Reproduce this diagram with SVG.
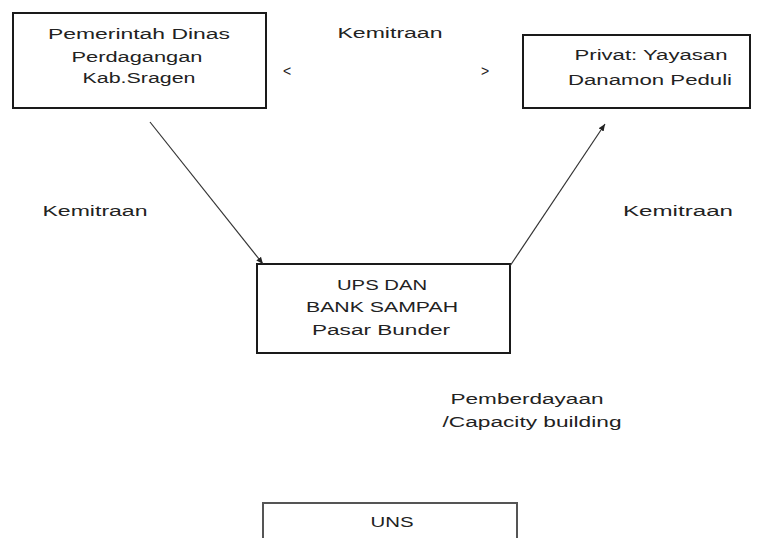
<svg xmlns="http://www.w3.org/2000/svg" width="768" height="538" viewBox="0 0 768 538">
<style>
.box{fill:#fff;stroke:#1a1a1a;stroke-width:2}
.t{font-family:"Liberation Sans",Arial,sans-serif;font-size:14px;fill:#222;text-anchor:middle}
.c{stroke:#333;stroke-width:1.2;fill:none}
</style>
<defs>
<marker id="ah" markerWidth="8" markerHeight="8" refX="7" refY="4" orient="auto" markerUnits="userSpaceOnUse">
<path d="M0,1 L7,4 L0,7 Z" fill="#222"/>
</marker>
</defs>
<rect width="768" height="538" fill="#fff"/>
<g id="n-pemerintah">
<rect class="box" x="13" y="13" width="253" height="95"/>
<text class="t" x="139" y="39" textLength="182" lengthAdjust="spacingAndGlyphs">Pemerintah Dinas</text>
<text class="t" x="137" y="62" textLength="131" lengthAdjust="spacingAndGlyphs">Perdagangan</text>
<text class="t" x="139" y="83" textLength="113" lengthAdjust="spacingAndGlyphs">Kab.Sragen</text>
</g>
<g id="n-privat">
<rect class="box" x="523" y="35" width="227" height="73"/>
<text class="t" x="651" y="60" textLength="153" lengthAdjust="spacingAndGlyphs">Privat: Yayasan</text>
<text class="t" x="650" y="85" textLength="164" lengthAdjust="spacingAndGlyphs">Danamon Peduli</text>
</g>
<g id="n-ups">
<rect class="box" x="257" y="264" width="253" height="89"/>
<text class="t" x="382" y="290" textLength="90" lengthAdjust="spacingAndGlyphs">UPS DAN</text>
<text class="t" x="382" y="312" textLength="152" lengthAdjust="spacingAndGlyphs">BANK SAMPAH</text>
<text class="t" x="381" y="335" textLength="138" lengthAdjust="spacingAndGlyphs">Pasar Bunder</text>
</g>
<g id="n-uns">
<rect x="263" y="503" width="254" height="45" fill="#fff" stroke="#555" stroke-width="2"/>
<text class="t" x="392" y="527" textLength="43" lengthAdjust="spacingAndGlyphs">UNS</text>
</g>
<g id="connectors">
<line class="c" x1="150" y1="122" x2="263" y2="264" marker-end="url(#ah)"/>
<line class="c" x1="510" y1="266" x2="605" y2="124" marker-end="url(#ah)"/>
</g>
<g id="labels">
<text class="t" x="390" y="38" textLength="105" lengthAdjust="spacingAndGlyphs">Kemitraan</text>
<text class="t" x="287" y="76">&lt;</text>
<text class="t" x="485" y="76">&gt;</text>
<text class="t" x="95" y="216" textLength="105" lengthAdjust="spacingAndGlyphs">Kemitraan</text>
<text class="t" x="678" y="216" textLength="110" lengthAdjust="spacingAndGlyphs">Kemitraan</text>
<text class="t" x="527" y="404" textLength="153" lengthAdjust="spacingAndGlyphs">Pemberdayaan</text>
<text class="t" x="532" y="427" textLength="179" lengthAdjust="spacingAndGlyphs">/Capacity building</text>
</g>
</svg>
